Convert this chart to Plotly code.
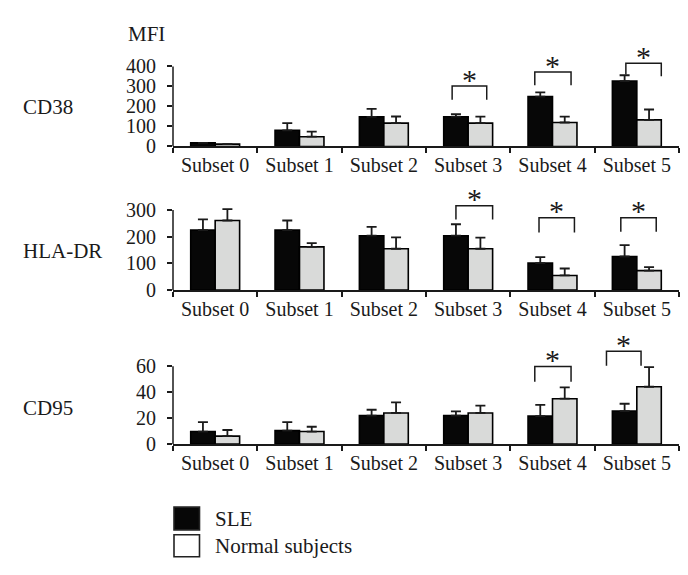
import plotly.graph_objects as go

categories = ["Subset 0", "Subset 1", "Subset 2", "Subset 3", "Subset 4", "Subset 5"]
series_names = ["SLE", "Normal subjects"]
panel_names = ["CD38", "HLA-DR", "CD95"]

# mean values
cd38_sle = [18, 81, 148, 149, 249, 327]
cd38_norm = [12, 49, 117, 117, 120, 133]
cd38_sle_top = [None, 117, 188, 162, 270, 356]
cd38_norm_top = [None, 74, 150, 149, 149, 185]

hla_sle = [225, 225, 204, 204, 101, 126]
hla_norm = [261, 162, 155, 155, 55, 73]
hla_sle_top = [265, 261, 237, 247, 124, 169]
hla_norm_top = [304, 176, 198, 197, 81, 86]

cd95_sle = [9.7, 10.4, 22, 22, 21.6, 25.5]
cd95_norm = [6.2, 9.7, 24, 24, 35, 44.2]
cd95_sle_top = [17, 16.9, 26.5, 25.3, 30.3, 31.1]
cd95_norm_top = [10.9, 13.4, 32.2, 29.7, 43.7, 59.3]

cd38_ticks = [0, 100, 200, 300, 400]
hla_ticks = [0, 100, 200, 300]
cd95_ticks = [0, 20, 40, 60]

# significance brackets: (subset index, bracket top, left leg end, right leg end)
cd38_brackets = [(3, 302, 233, 233), (4, 372, 306, 306), (5, 416, 360, 351)]
hla_brackets = [(3, 316, 265, 265), (4, 271, 216, 216), (5, 271, 219, 219)]
cd95_brackets = [(4, 59.7, 48, 48), (5, 71.6, 60.4, 60.4)]

# style: horizontal extent of each bracket relative to the category centre
cd38_bx = [(-0.19, 0.22), (-0.21, 0.22), (-0.13, 0.29)]
hla_bx = [(-0.145, 0.29), (-0.16, 0.26), (-0.19, 0.23)]
cd95_bx = [(-0.21, 0.22), (-0.36, 0.05)]

panels = [
    dict(sle=cd38_sle, norm=cd38_norm, st=cd38_sle_top, nt=cd38_norm_top, ticks=cd38_ticks,
         br=cd38_brackets, bx=cd38_bx, rng=430, dom=[0.7612, 0.9151], label_y=96.7),
    dict(sle=hla_sle, norm=hla_norm, st=hla_sle_top, nt=hla_norm_top, ticks=hla_ticks,
         br=hla_brackets, bx=hla_bx, rng=330, dom=[0.5043, 0.6617], label_y=245),
    dict(sle=cd95_sle, norm=cd95_norm, st=cd95_sle_top, nt=cd95_norm_top, ticks=cd95_ticks,
         br=cd95_brackets, bx=cd95_bx, rng=75, dom=[0.2287, 0.4030], label_y=406.7),
]

W, H = 688, 575
FONT = "Liberation Serif"
xdom = [165 / W, 671 / W]
BLACK = "#070707"
GRAY = "#d9dad9"
LINE = "#1a1a1a"

fig = go.Figure()
shapes = []
annotations = []

def plus(vals, tops):
    return [None if t is None else t - v for v, t in zip(vals, tops)]

for i, p in enumerate(panels):
    n = i + 1
    xa = "x" if n == 1 else f"x{n}"
    ya = "y" if n == 1 else f"y{n}"
    for name, vals, tops, color in [(series_names[0], p["sle"], p["st"], BLACK),
                                    (series_names[1], p["norm"], p["nt"], GRAY)]:
        fig.add_trace(go.Bar(
            x=categories, y=vals, name=name, xaxis=xa, yaxis=ya, showlegend=False,
            marker=dict(color=color, line=dict(color="#000000", width=1.6)),
            error_y=dict(type="data", array=plus(vals, tops), symmetric=False,
                         arrayminus=[0] * len(vals), color=LINE, thickness=1.8, width=5),
        ))
    axkey = "xaxis" if n == 1 else f"xaxis{n}"
    aykey = "yaxis" if n == 1 else f"yaxis{n}"
    fig.layout[axkey] = dict(
        domain=xdom, anchor=ya, type="category", range=[-0.5, 5.5],
        categoryorder="array", categoryarray=categories,
        showline=True, linecolor=LINE, linewidth=1.5,
        ticks="outside", tickson="boundaries", ticklen=5, tickwidth=1.5, tickcolor=LINE,
        tickfont=dict(family=FONT, size=20, color="#1a1a1a"), showgrid=False,
        fixedrange=True,
    )
    fig.layout[aykey] = dict(
        domain=p["dom"], anchor=xa, range=[0, p["rng"]],
        tickvals=p["ticks"], ticktext=[str(t) for t in p["ticks"]],
        showline=False, showgrid=False, zeroline=False,
        ticks="outside", ticklen=5, tickwidth=1.5, tickcolor=LINE, ticklabelstandoff=7,
        tickfont=dict(family=FONT, size=20, color="#1a1a1a"),
    )
    # y axis line up to the top tick
    shapes.append(dict(type="line", xref="paper", yref=ya, x0=xdom[0], x1=xdom[0],
                       y0=0, y1=max(p["ticks"]), line=dict(color=LINE, width=1.5)))
    # brackets
    for (idx, top, l_end, r_end), (dl, dr) in zip(p["br"], p["bx"]):
        xl, xr = idx + dl, idx + dr
        path = f"M {xl},{l_end} L {xl},{top} L {xr},{top} L {xr},{r_end}"
        shapes.append(dict(type="path", xref=xa, yref=ya, path=path,
                           line=dict(color=LINE, width=1.5)))
        annotations.append(dict(xref=xa, yref=ya, x=(xl + xr) / 2, y=top, text="*",
                                showarrow=False, yanchor="middle", xanchor="center", yshift=7,
                                font=dict(family=FONT, size=30, color="#1a1a1a")))
    annotations.append(dict(xref="paper", yref="paper", x=12.7 / W, y=1 - p["label_y"] / H,
                            text=panel_names[i], showarrow=False, xanchor="left", yanchor="middle",
                            font=dict(family=FONT, size=21, color="#1a1a1a")))

annotations.append(dict(xref="paper", yref="paper", x=118 / W, y=1 - 21.7 / H, text="MFI",
                        showarrow=False, xanchor="left", yanchor="middle",
                        font=dict(family=FONT, size=21, color="#1a1a1a")))

# legend (drawn manually to match the large swatches)
legend_fills = [BLACK, "#ffffff"]
legend_rows = [(508.3, 531.7), (536.7, 559.3)]
for (y0, y1), name, fill in zip(legend_rows, series_names, legend_fills):
    shapes.append(dict(type="rect", xref="paper", yref="paper", x0=166 / W, x1=191.5 / W,
                       y0=1 - y1 / H, y1=1 - y0 / H, fillcolor=fill,
                       line=dict(color="#222222", width=1.6)))
    annotations.append(dict(xref="paper", yref="paper", x=205 / W, y=1 - ((y0 + y1) / 2) / H,
                            text=name, showarrow=False, xanchor="left", yanchor="middle",
                            font=dict(family=FONT, size=21, color="#1a1a1a")))

fig.update_layout(
    width=W, height=H, margin=dict(l=0, r=0, t=0, b=0),
    paper_bgcolor="white", plot_bgcolor="white",
    barmode="group", bargap=0.42, bargroupgap=0,
    shapes=shapes, annotations=annotations, showlegend=False,
)

fig.write_html("out.html")
